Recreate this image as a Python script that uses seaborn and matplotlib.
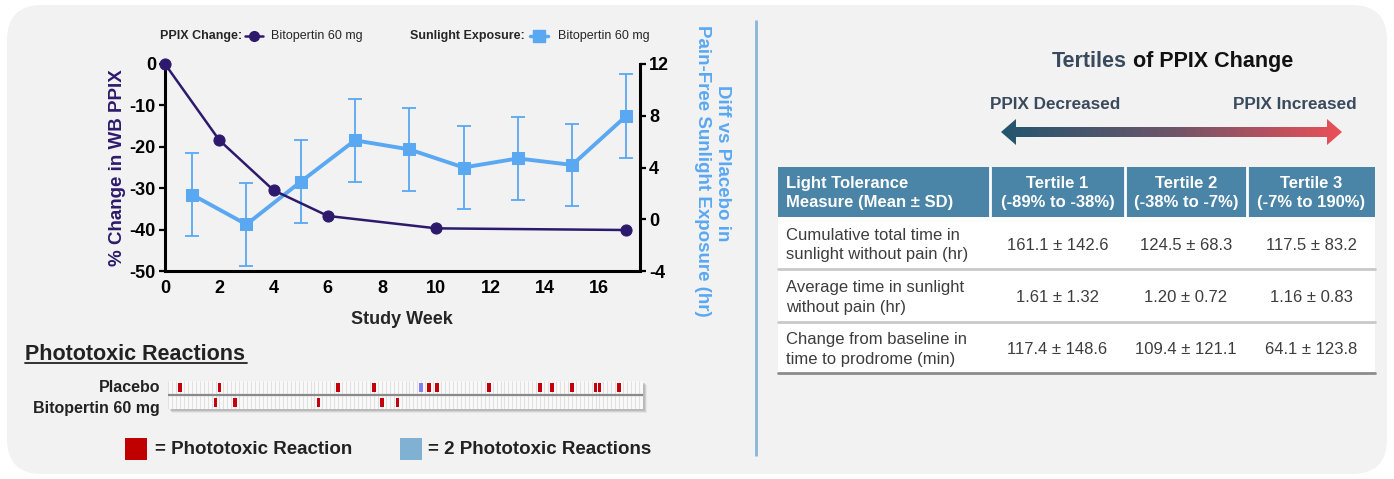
import numpy as np
import pandas as pd
import matplotlib
matplotlib.use("Agg")
import matplotlib.pyplot as plt
import seaborn as sns
from matplotlib.patches import FancyBboxPatch, Rectangle, Polygon
from matplotlib.colors import LinearSegmentedColormap

# PPIX change from baseline (%)
ppix_weeks = [0, 2, 4, 6, 10, 17]
ppix_change = [0, -18.4, -30.5, -36.7, -39.7, -40.1]

# difference vs placebo in pain-free sunlight exposure (hr)
sun_weeks = [1, 3, 5, 7, 9, 11, 13, 15, 17]
sun_diff = [1.9, -0.4, 2.9, 6.1, 5.4, 4.0, 4.7, 4.2, 8.0]
sun_sd = [3.2, 3.2, 3.2, 3.2, 3.2, 3.2, 3.2, 3.2, 3.25]

# phototoxic reactions by study day
strip_days = 120
placebo_days = [3, 13, 43, 52, 66, 68, 81, 94, 97, 102, 108, 109, 114]
placebo_double_days = [64]
bito_days = [12, 17, 38, 54, 58]

table_header = ["Light Tolerance\nMeasure (Mean ± SD)", "Tertile 1\n(-89% to -38%)",
                "Tertile 2\n(-38% to -7%)", "Tertile 3\n(-7% to 190%)"]
table_measures = ["Cumulative total time in\nsunlight without pain (hr)",
                  "Average time in sunlight\nwithout pain (hr)",
                  "Change from baseline in\ntime to prodrome (min)"]
tertile1 = ["161.1 ± 142.6", "1.61 ± 1.32", "117.4 ± 148.6"]
tertile2 = ["124.5 ± 68.3", "1.20 ± 0.72", "109.4 ± 121.1"]
tertile3 = ["117.5 ± 83.2", "1.16 ± 0.83", "64.1 ± 123.8"]

purple = '#2d1a6c'
blue = '#5aa8f2'
slate = '#3a4a5d'
red = '#c4000c'

sns.set_style("white")
plt.rcParams['font.family'] = ['Liberation Sans', 'DejaVu Sans']
plt.rcParams['axes.unicode_minus'] = False

W, H = 1394, 479
fig = plt.figure(figsize=(W / 100, H / 100), dpi=100)
fig.patch.set_facecolor('white')

# full-figure pixel axes for background, texts, table
bg = fig.add_axes([0, 0, 1, 1], zorder=-10)
bg.set_xlim(0, W)
bg.set_ylim(H, 0)
bg.axis('off')
r = 35
bg.add_patch(FancyBboxPatch((7 + r, 5 + r), W - 14 - 2 * r, H - 10 - 2 * r,
                            boxstyle=f"round,pad={r}", fc='#f2f2f2', ec='none', zorder=0.5))
bg.plot([756, 756], [20, 456], color='#86b6d8', lw=2, solid_capstyle='butt')

# ---- main dual-axis chart ----
ax_sun = fig.add_axes([165 / W, 1 - 271 / H, 475 / W, 207 / H])
ax_sun.patch.set_alpha(0)
ax_ppix = ax_sun.twinx()
ax_ppix.patch.set_alpha(0)

ax_sun.errorbar(sun_weeks, sun_diff, yerr=sun_sd, fmt='none', ecolor=blue,
                elinewidth=1.3, capsize=5, capthick=1.3, zorder=3)
sns.lineplot(x=sun_weeks, y=sun_diff, ax=ax_sun, color=blue, lw=2.8, marker='s',
             ms=9, mec=blue, mfc=blue, zorder=4)
sns.lineplot(x=ppix_weeks, y=ppix_change, ax=ax_ppix, color=purple, lw=1.8, marker='o',
             ms=8, mec=purple, mfc=purple, clip_on=False, zorder=5)

ax_sun.set_xlim(0, 17.5)
ax_sun.set_xticks(range(0, 17, 2))
ax_sun.set_ylim(-4, 12)
ax_sun.set_yticks([-4, 0, 4, 8, 12])
ax_ppix.set_ylim(-50, 0)
ax_ppix.set_yticks(range(-50, 1, 10))
ax_sun.yaxis.tick_right()
ax_ppix.yaxis.tick_left()
for a in (ax_sun, ax_ppix):
    a.set_xlabel('')
    a.set_ylabel('')
    for s in a.spines.values():
        s.set_linewidth(2.2)
        s.set_color('black')
    a.tick_params(direction='out', length=4.5, width=1.6, labelsize=13, pad=2, colors='black')
    for lab in a.get_xticklabels() + a.get_yticklabels():
        lab.set_fontweight('bold')
ax_sun.spines['top'].set_visible(False)
ax_sun.spines['left'].set_visible(False)
ax_ppix.spines['top'].set_visible(False)
ax_ppix.spines['right'].set_visible(False)
ax_ppix.spines['bottom'].set_visible(False)
ax_sun.tick_params(axis='y', left=False, right=True)
ax_ppix.tick_params(axis='y', left=True, right=False)

bg.text(117, 168, "% Change in WB PPIX", rotation=90, ha='center', va='center',
        fontsize=13.5, fontweight='bold', color=purple)
bg.text(723, 163, "Diff vs Placebo in", rotation=270, ha='center', va='center',
        fontsize=13.5, fontweight='bold', color=blue)
bg.text(703, 171, "Pain-Free Sunlight Exposure (hr)", rotation=270, ha='center', va='center',
        fontsize=13.5, fontweight='bold', color=blue)
bg.text(402, 320, "Study Week", ha='center', va='center', fontsize=13, fontweight='bold')

# top legend
bg.text(160, 36, "PPIX Change:", ha='left', va='center', fontsize=9, fontweight='bold')
bg.plot([245, 254, 263], [36, 36, 36], color=purple, lw=1.8, marker='o', ms=7, markevery=[1])
bg.text(271, 36, "Bitopertin 60 mg", ha='left', va='center', fontsize=9)
bg.text(410, 36, "Sunlight Exposure:", ha='left', va='center', fontsize=9, fontweight='bold')
bg.plot([530, 539, 548], [36, 36, 36], color=blue, lw=2.5, marker='s', ms=8, markevery=[1])
bg.text(558, 36, "Bitopertin 60 mg", ha='left', va='center', fontsize=9)

# ---- phototoxic reactions strip ----
bg.text(25, 354, "Phototoxic Reactions", ha='left', va='center', fontsize=15.5,
        fontweight='bold', color='#222222')
bg.plot([25, 247], [362.5, 362.5], color='#222222', lw=1.3)
for k, a in enumerate([0.25, 0.18, 0.1]):
    bg.add_patch(Rectangle((168 + 2 + k, 381 + 2 + k), 475, 28, fc='#7a7a7a', ec='none',
                           alpha=a, zorder=1))

ax_strip = fig.add_axes([168 / W, 1 - 409 / H, 475 / W, 28 / H])
ax_strip.set_facecolor('#fafafa')
ax_strip.set_xlim(0, strip_days)
ax_strip.set_ylim(0, 2)
ax_strip.vlines(np.arange(0, strip_days + 1), 0, 2, color='#e0e0e0', lw=0.8, zorder=1)
ax_strip.axhline(1, color='#8a8a8a', lw=1.6, zorder=2)
ax_strip.bar(placebo_days, 0.65, bottom=1.2, width=0.95, color=red, zorder=3, linewidth=0)
ax_strip.bar(placebo_double_days, 0.65, bottom=1.2, width=0.95, color='#7f7ff2', zorder=3, linewidth=0)
ax_strip.bar(bito_days, 0.65, bottom=0.12, width=0.95, color=red, zorder=3, linewidth=0)
ax_strip.set_xticks([])
ax_strip.set_yticks([])
for s in ax_strip.spines.values():
    s.set_visible(False)

bg.text(160, 387, "Placebo", ha='right', va='center', fontsize=11.5, fontweight='bold', color='#222222')
bg.text(160, 409, "Bitopertin 60 mg", ha='right', va='center', fontsize=11.5, fontweight='bold', color='#222222')

bg.add_patch(Rectangle((125, 438), 22, 22, fc='#c00000', ec='none', zorder=2))
bg.text(155, 450, "= Phototoxic Reaction", ha='left', va='center', fontsize=13.5, fontweight='bold', color='#222222')
bg.add_patch(Rectangle((400, 438), 22, 22, fc='#80b1d3', ec='none', zorder=2))
bg.text(428, 450, "= 2 Phototoxic Reactions", ha='left', va='center', fontsize=13.5, fontweight='bold', color='#222222')

# ---- right panel ----
bg.text(1127, 61, "Tertiles", ha='right', va='center', fontsize=15.5, fontweight='bold', color=slate)
bg.text(1133, 61, "of PPIX Change", ha='left', va='center', fontsize=15.5, fontweight='bold', color='#111111')
bg.text(990, 104, "PPIX Decreased", ha='left', va='center', fontsize=12.3, fontweight='bold', color=slate)
bg.text(1357, 104, "PPIX Increased", ha='right', va='center', fontsize=12.3, fontweight='bold', color=slate)

x0, x1, yc = 1001, 1342, 132
hl, hh, sh = 15, 13, 5
arrow = Polygon([(x0, yc), (x0 + hl, yc - hh), (x0 + hl, yc - sh), (x1 - hl, yc - sh),
                 (x1 - hl, yc - hh), (x1, yc), (x1 - hl, yc + hh), (x1 - hl, yc + sh),
                 (x0 + hl, yc + sh), (x0 + hl, yc + hh)], closed=True, fc='none', ec='none')
bg.add_patch(arrow)
cmap = LinearSegmentedColormap.from_list('ppix', ['#23566f', '#6d5569', '#eb4f58'])
grad = bg.imshow(np.linspace(0, 1, 256)[None, :], cmap=cmap, aspect='auto',
                 extent=[x0, x1, yc + hh, yc - hh], interpolation='bilinear', zorder=3)
grad.set_clip_path(arrow)
bg.set_xlim(0, W)
bg.set_ylim(H, 0)

col_x = [778, 990, 1125, 1247, 1375]
row_y = [167, 217, 269, 322, 373]
bg.add_patch(Rectangle((col_x[0], row_y[0]), col_x[-1] - col_x[0], row_y[1] - row_y[0],
                       fc='#4a84a7', ec='none', zorder=2))
bg.add_patch(Rectangle((col_x[0], row_y[1]), col_x[-1] - col_x[0], row_y[-1] - row_y[1],
                       fc='white', ec='none', zorder=2))
for cx in col_x[1:-1]:
    bg.plot([cx, cx], [row_y[0], row_y[1]], color='white', lw=2, zorder=3)
for ry in row_y[2:-1]:
    bg.plot([col_x[0], col_x[-1]], [ry, ry], color='#c9c9c9', lw=2, zorder=3)
bg.plot([col_x[0], col_x[-1]], [row_y[-1], row_y[-1]], color='#8c8c8c', lw=2, zorder=3)

hy = (row_y[0] + row_y[1]) / 2 + 1
bg.text(col_x[0] + 8, hy, table_header[0], ha='left', va='center', fontsize=12,
        fontweight='bold', color='white', linespacing=1.35, zorder=4)
for j in range(1, 4):
    bg.text((col_x[j] + col_x[j + 1]) / 2, hy, table_header[j], ha='center', va='center',
            fontsize=12, fontweight='bold', color='white', linespacing=1.35, zorder=4)

body_cols = [tertile1, tertile2, tertile3]
for i, meas in enumerate(table_measures):
    cy = (row_y[i + 1] + row_y[i + 2]) / 2 + 2
    bg.text(col_x[0] + 8, cy, meas, ha='left', va='center', fontsize=12,
            color='#3d3d3d', linespacing=1.35, zorder=4)
    for j, col in enumerate(body_cols):
        bg.text((col_x[j + 1] + col_x[j + 2]) / 2, cy, col[i], ha='center', va='center',
                fontsize=12, color='#3d3d3d', zorder=4)

plt.savefig('out.png', dpi=100, facecolor=fig.get_facecolor())
